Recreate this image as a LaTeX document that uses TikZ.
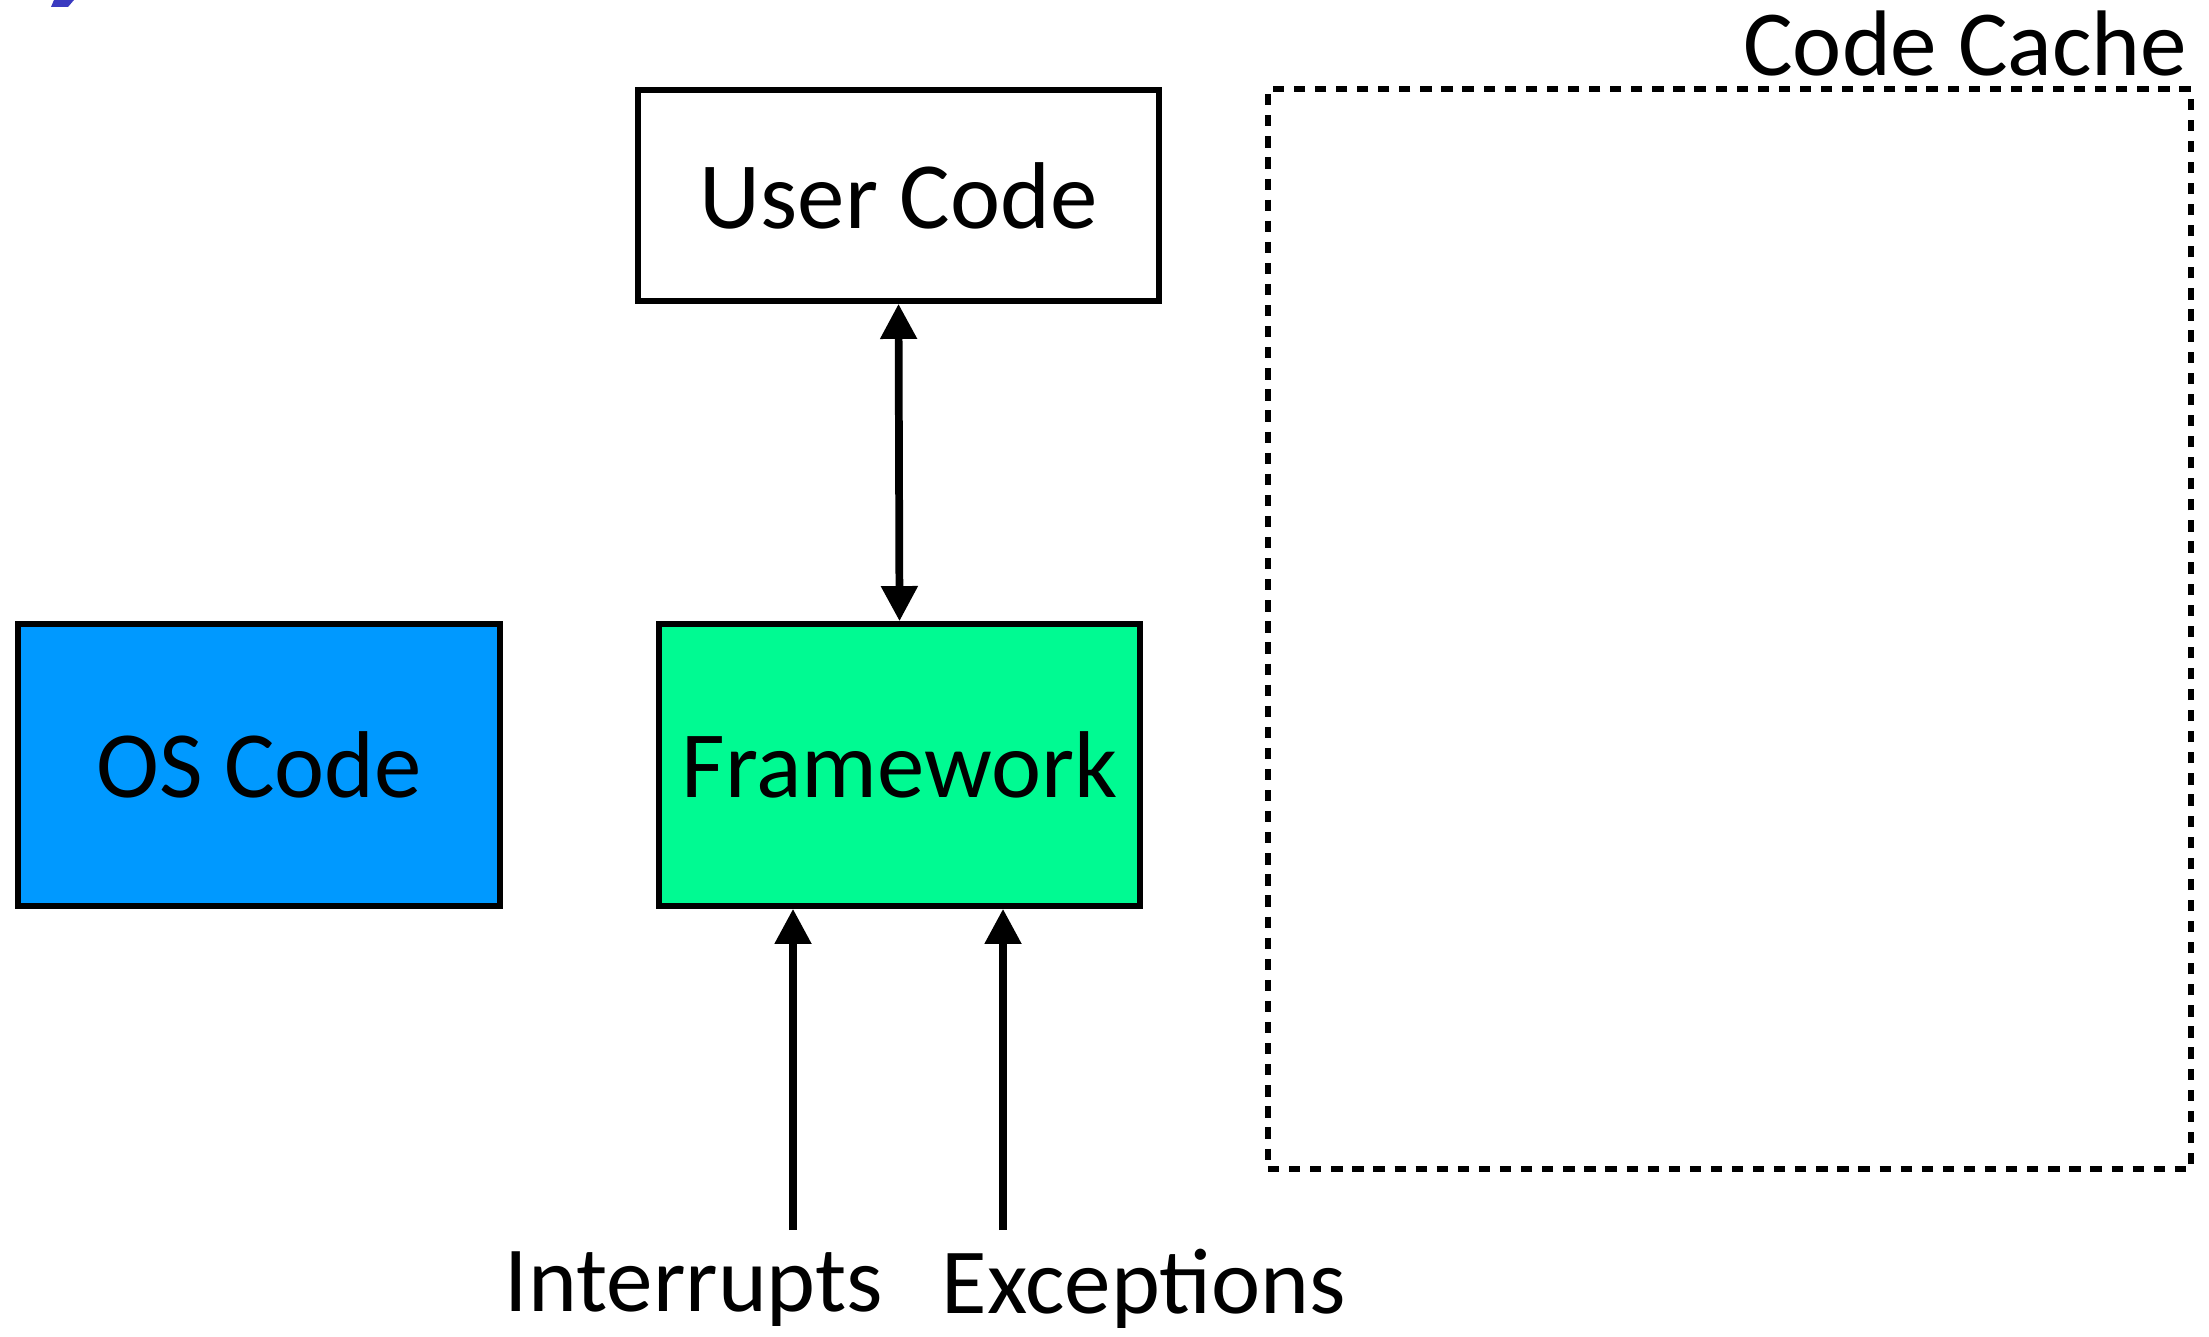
\documentclass[tikz,border=0pt]{standalone}
\usepackage{fontspec}
\setmainfont{Carlito}
\usetikzlibrary{arrows.meta}

\definecolor{osblue}{RGB}{0,153,255}
\definecolor{fwgreen}{RGB}{0,250,146}
\definecolor{titleblue}{RGB}{58,58,192}

\tikzset{
    block/.style={draw=black, line width=1.6pt, rectangle, font=\fontsize{27}{30}\selectfont, inner sep=0pt},
    flow/.style={line width=2.2pt, -{Triangle[length=10pt, width=10pt]}},
    label text/.style={font=\fontsize{26.5}{30}\selectfont, inner sep=0pt}
}

\begin{document}
\begin{tikzpicture}
    \useasboundingbox (0,0) rectangle (22.09,13.36);

    % Cut-off title piece
    \fill[titleblue] (0.51,13.29) -- (0.68,13.29) -- (0.74,13.36) -- (0.54,13.36) -- cycle;

    % Boxes
    \node[block, minimum width=5.21cm, minimum height=2.11cm] (user) at (8.985,11.405) {User Code};
    \node[block, fill=fwgreen, minimum width=4.81cm, minimum height=2.82cm] (framework) at (8.995,5.71) {Framework};
    \node[block, fill=osblue, minimum width=4.82cm, minimum height=2.82cm] (os) at (2.59,5.71) {OS Code};

    % Code cache region
    \node[draw=black, line width=1.5pt, dash pattern=on 3.2pt off 2.8pt, minimum width=9.23cm, minimum height=10.80cm] (cache) at (17.295,7.07) {};
    \node[label text, anchor=base east] (cachelabel) at (21.88,12.60) {Code Cache};

    % User code <-> framework
    \draw[flow, {Triangle[length=10pt, width=10pt]}-{Triangle[length=10pt, width=10pt]}] (user.south) -- (framework.north);

    % Events into the framework
    \coordinate (intstart) at (7.93,1.06);
    \coordinate (excstart) at (10.03,1.06);
    \draw[flow] (intstart) -- (intstart |- framework.south);
    \draw[flow] (excstart) -- (excstart |- framework.south);

    \node[label text] (interrupts) at (6.94,0.47) {Interrupts};
    \node[label text] (exceptions) at (11.44,0.47) {Exceptions};
\end{tikzpicture}
\end{document}
